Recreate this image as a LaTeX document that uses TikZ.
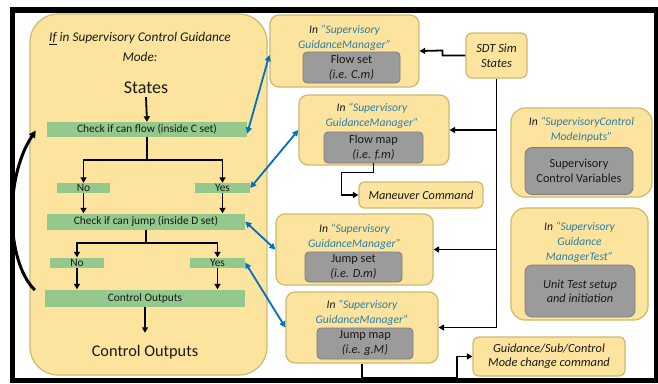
\documentclass[tikz,border=0pt]{standalone}
\usepackage{fontspec}
\setmainfont{Carlito}
\usetikzlibrary{arrows.meta}
\definecolor{yel}{RGB}{252,228,158}
\definecolor{yelb}{RGB}{205,185,110}
\definecolor{grn}{RGB}{148,200,140}
\definecolor{gry}{RGB}{155,155,155}
\definecolor{gryb}{RGB}{125,125,125}
\definecolor{txt}{RGB}{25,25,25}
\definecolor{qt}{RGB}{45,125,165}
\definecolor{blu}{RGB}{0,112,192}
\newcommand\qtx[1]{\textcolor{qt}{#1}}
\begin{document}
\begin{tikzpicture}[x=1pt,y=-1pt,
 ybox/.style={draw=yelb, line width=1.2pt, fill=yel, rounded corners=9pt, inner sep=0pt},
 gbox/.style={draw=gryb, line width=0.8pt, fill=gry, rounded corners=4pt, inner sep=0pt, text=txt, align=center, font=\fontsize{12.3}{15}\selectfont},
 bar/.style={fill=grn, inner sep=0pt, text=txt, font=\fontsize{11.4}{12}\selectfont},
 ttl/.style={text=txt, align=center, font=\fontsize{11.6}{15}\selectfont\itshape, inner sep=0pt},
 arr/.style={line width=1.8pt, -{Triangle[length=5.5pt,width=6pt]}},
 ln/.style={line width=1.8pt},
 barr/.style={line width=1.8pt, draw=blu, {Triangle[length=6pt,width=6pt]}-{Triangle[length=6pt,width=6pt]}}]
\useasboundingbox (0,0) rectangle (658,383);
\fill[white] (0,0) rectangle (658,383);
\fill[black] (10,7) rectangle (658,383);
\fill[white] (15,13) rectangle (654,378);

% left big box
\node[ybox, rounded corners=28pt, minimum width=237pt, minimum height=361pt] (lbox) at (148.5,194.5) {};
\node[ttl, font=\fontsize{13.3}{20.5}\selectfont\itshape] (title) at (140,47) {\underline{If} in Supervisory Control Guidance\\Mode:};
\node[text=txt, font=\fontsize{18}{20}\selectfont, inner sep=0pt] (states) at (146,88) {States};
\node[bar, minimum width=200pt, minimum height=15pt] (chkf) at (147,129.5) {Check if can flow (inside C set)};
\node[bar, minimum width=53pt, minimum height=10pt] (no1) at (83.5,188) {No};
\node[bar, minimum width=55pt, minimum height=10pt] (yes1) at (222.5,188) {Yes};
\node[bar, minimum width=198pt, minimum height=16pt] (chkj) at (146,221.5) {Check if can jump (inside D set)};
\node[bar, minimum width=54pt, minimum height=10pt] (no2) at (77,262.5) {No};
\node[bar, minimum width=55pt, minimum height=10pt] (yes2) at (217.5,262.5) {Yes};
\node[bar, minimum width=200pt, minimum height=17pt] (cob) at (145,298) {Control Outputs};
\node[text=txt, font=\fontsize{16.3}{18}\selectfont, inner sep=0pt] (cot) at (145,352) {Control Outputs};

\coordinate (sp1) at (147,160);
\coordinate (sp2) at (146,243);
\draw[arr] ([yshift=-3pt]states.south) -- (chkf.north);
\draw[ln] (chkf.south) -- (sp1);
\draw[arr] (sp1) -| (no1.north);
\draw[arr] (sp1) -| (yes1.north);
\draw[arr] (no1.south) -- (no1.south |- chkj.north);
\draw[arr] (yes1.south) -- (yes1.south |- chkj.north);
\draw[ln] (chkj.south) -- (sp2);
\draw[arr] (sp2) -| (no2.north);
\draw[arr] (sp2) -| (yes2.north);
\draw[arr] (no2.south) -- (no2.south |- cob.north);
\draw[arr] (yes2.south) -- (yes2.south |- cob.north);
\draw[arr] (cob.south) -- ([yshift=12pt]cot.north);
\draw[line width=3pt, -{Triangle[length=7pt,width=7pt]}] ([xshift=-10pt,yshift=8pt]cob.west) .. controls (6,262) and (4,178) .. ([xshift=-11pt,yshift=-1pt]chkf.west);

% Box A
\node[ybox, minimum width=149pt, minimum height=72pt] (boxA) at (344.5,51) {};
\node[ttl] (tA) at (344.5,37.5) {In \qtx{“Supervisory}\\\qtx{GuidanceManager”}};
\node[gbox, minimum width=97pt, minimum height=31pt] (gA) at (351.5,67.5) {Flow set\\\textit{(i.e. C.m)}};
% Box B
\node[ybox, minimum width=150pt, minimum height=70pt] (boxB) at (374,130) {};
\node[ttl] (tB) at (372,115.5) {In \qtx{“Supervisory}\\\qtx{GuidanceManager”}};
\node[gbox, minimum width=99pt, minimum height=31pt] (gB) at (373.5,147.5) {Flow map\\\textit{(i.e. f.m)}};
% Maneuver
\node[ybox, rounded corners=5pt, minimum width=124pt, minimum height=26pt, text=txt, font=\fontsize{12.3}{14}\selectfont\itshape] (man) at (421,195) {Maneuver Command};
% Box C
\node[ybox, minimum width=157pt, minimum height=71pt] (boxC) at (354.5,249.5) {};
\node[ttl] (tC) at (354.5,236.5) {In \qtx{“Supervisory}\\\qtx{GuidanceManager”}};
\node[gbox, minimum width=97pt, minimum height=30pt] (gC) at (353.5,267) {Jump set\\\textit{(i.e. D.m)}};
% Box D
\node[ybox, minimum width=152pt, minimum height=71pt] (boxD) at (362,327.5) {};
\node[ttl] (tD) at (362,312.5) {In \qtx{“Supervisory}\\\qtx{GuidanceManager”}};
\node[gbox, minimum width=96pt, minimum height=31pt] (gD) at (365,343.5) {Jump map\\\textit{(i.e. g.M)}};
% SDT
\node[ybox, rounded corners=6pt, minimum width=61pt, minimum height=45pt, text=txt, align=center, font=\fontsize{12.5}{15}\selectfont\itshape] (sdt) at (496.5,55.5) {SDT Sim\\States};
% Guidance
\node[ybox, rounded corners=6pt, minimum width=152pt, minimum height=39pt, text=txt, align=center, font=\fontsize{12.4}{14}\selectfont\itshape] (gd) at (549,356.5) {Guidance/Sub/Control\\Mode change command};
% Box E
\node[ybox, rounded corners=14pt, minimum width=141pt, minimum height=89pt] (boxE) at (581.5,152.5) {};
\node[ttl] (tE) at (581.5,130) {In \qtx{“SupervisoryControl}\\\qtx{ModeInputs”}};
\node[gbox, rounded corners=7pt, minimum width=108pt, minimum height=47pt] (gE) at (579,171) {Supervisory\\Control Variables};
% Box F
\node[ybox, rounded corners=14pt, minimum width=137pt, minimum height=112pt] (boxF) at (579.5,264) {};
\node[ttl] (tF) at (579.5,242) {In \qtx{“Supervisory}\\\qtx{Guidance}\\\qtx{ManagerTest”}};
\node[gbox, rounded corners=7pt, minimum width=110pt, minimum height=52pt, font=\fontsize{12.3}{14}\selectfont\itshape] (gF) at (580,291) {Unit Test setup\\and initiation};

% black connectors on the right
\draw[arr] (sdt.west) -- ++(-23,0) -- ++(0,-5) -- (boxA.east);
\draw[ln] (sdt.south) -- (sdt.south |- boxD.east);
\draw[arr] (sdt.south |- boxB.east) -- (boxB.east);
\draw[arr] (sdt.south |- boxC.east) -- (boxC.east);
\draw[arr] (sdt.south |- boxD.east) -- (boxD.east);
\draw[arr] (gB.south) -- ++(0,9) -- ++(-32,0) |- (man.west);
\draw[arr] (boxD.south) -- ++(0,14) -- ++(95,0) |- (gd.west);

% blue double arrows
\draw[barr] ([yshift=-4pt]chkf.east) -- ([yshift=-4pt]boxA.west);
\draw[barr] (yes1.east) -- (boxB.west);
\draw[barr] (chkj.east) -- (boxC.west);
\draw[barr] (yes2.east) -- (boxD.west);
\end{tikzpicture}
\end{document}
